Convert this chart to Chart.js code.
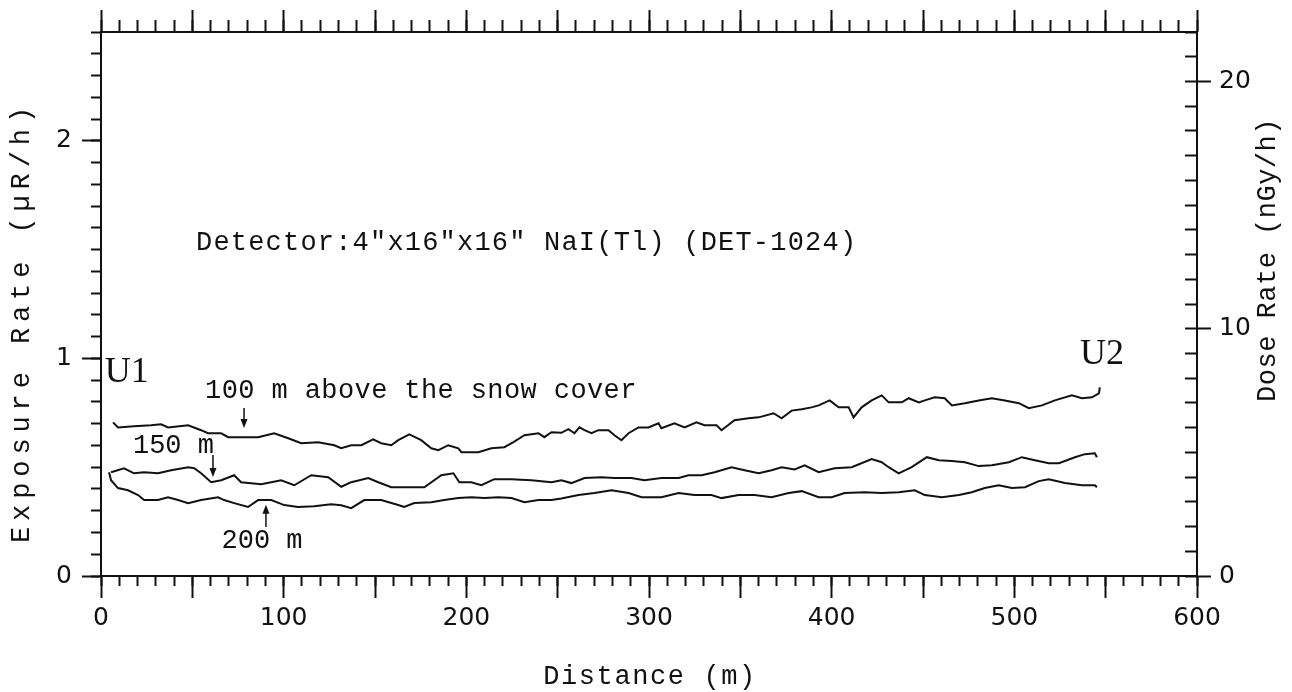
<!DOCTYPE html>
<html>
<head>
<meta charset="utf-8">
<script src="https://cdn.jsdelivr.net/npm/chart.js@4.4.0/dist/chart.umd.min.js"></script>
<style>
  html, body { margin: 0; padding: 0; background: #fff; }
  #wrap { width: 1292px; height: 692px; }
</style>
</head>
<body>
<div id="wrap"><canvas id="chart"></canvas></div>
<script>
// distance along the flight line (m) and exposure rate (uR/h)
const dist100 = [6.6, 9.3, 18, 27.4, 32.9, 36.7, 47.7, 54.8, 58.6, 65.8, 69.6, 76.7, 86, 94.8, 102.5, 109.6, 118.9, 127.7,
  131.5, 137, 142.5, 149, 153.4, 158.9, 162.7, 168.8, 175.3, 180.8, 184.7, 190.1, 195.6, 197.3, 206.6, 213.7, 220.8,
  225.8, 231.8, 239.5, 242.7, 246.6, 252, 255.9, 259.2, 261.9, 264.7, 268.5, 272.3, 277.8, 281.1, 284.9, 288.8, 294.2,
  299.7, 305.2, 306.8, 313.9, 319.5, 326, 330.4, 337, 339.7, 346.8, 354.5, 360, 368.2, 372.6, 378.1, 383.6, 389, 392.9,
  398.9, 403.8, 409.3, 412, 416.4, 421.9, 427.4, 431.2, 438.4, 442.2, 447.7, 451, 456.4, 461.9, 465.8, 472.9, 480.5,
  487.7, 494.8, 502.5, 507.9, 515.1, 522.2, 531.5, 537, 542.5, 546.3, 546.8];
const rate100 = [0.706, 0.683, 0.688, 0.693, 0.697, 0.683, 0.693, 0.670, 0.656, 0.656, 0.638, 0.638, 0.638, 0.656, 0.633,
  0.610, 0.615, 0.601, 0.587, 0.601, 0.601, 0.628, 0.610, 0.601, 0.624, 0.651, 0.624, 0.587, 0.578, 0.601, 0.587, 0.569,
  0.569, 0.587, 0.592, 0.615, 0.647, 0.656, 0.638, 0.661, 0.658, 0.675, 0.656, 0.683, 0.670, 0.656, 0.670, 0.670, 0.647,
  0.624, 0.656, 0.683, 0.683, 0.702, 0.679, 0.702, 0.683, 0.706, 0.693, 0.693, 0.670, 0.716, 0.725, 0.729, 0.748, 0.725,
  0.760, 0.766, 0.775, 0.784, 0.807, 0.775, 0.775, 0.729, 0.775, 0.807, 0.830, 0.798, 0.798, 0.817, 0.798, 0.807, 0.821,
  0.817, 0.784, 0.794, 0.807, 0.817, 0.807, 0.794, 0.771, 0.784, 0.807, 0.830, 0.817, 0.821, 0.839, 0.867];

const dist150 = [5.5, 12.6, 18.1, 23.6, 31.2, 38.4, 47.7, 51, 54.8, 60.3, 65.8, 72.9, 76.7, 87.7, 98.6, 105.8, 115.1, 124.4,
  131.5, 137, 146.3, 151.8, 158.9, 168.2, 177, 186.3, 192.9, 196.2, 202.7, 208.2, 215.3, 224.7, 235.6, 246.6, 252, 257.5,
  264.7, 274, 281.1, 290.4, 297.5, 306.8, 316.2, 321.6, 328.8, 335.9, 345.2, 352.3, 360, 367.1, 372.6, 379.7, 385.2,
  392.9, 401.6, 411, 421.9, 427.4, 431.2, 436.7, 443.8, 452.1, 458.6, 465.8, 472.9, 480.5, 487.7, 497, 504.1, 511.2,
  518.9, 524.4, 533.2, 538.6, 544.1, 545.2];
const rate150 = [0.477, 0.495, 0.472, 0.477, 0.472, 0.486, 0.500, 0.495, 0.472, 0.431, 0.440, 0.463, 0.431, 0.422, 0.440,
  0.417, 0.463, 0.454, 0.410, 0.431, 0.450, 0.431, 0.408, 0.408, 0.408, 0.463, 0.472, 0.431, 0.431, 0.417, 0.445, 0.445,
  0.440, 0.431, 0.440, 0.427, 0.450, 0.454, 0.450, 0.450, 0.440, 0.450, 0.450, 0.463, 0.463, 0.477, 0.500, 0.486, 0.472,
  0.486, 0.500, 0.490, 0.509, 0.477, 0.495, 0.500, 0.537, 0.523, 0.500, 0.472, 0.500, 0.546, 0.532, 0.528, 0.523, 0.505,
  0.509, 0.523, 0.546, 0.532, 0.518, 0.518, 0.546, 0.560, 0.564, 0.546];

const dist200 = [4.4, 5.5, 9.3, 14.8, 20.3, 23.6, 31.2, 36.7, 42.2, 47.7, 54.8, 64.1, 67.4, 72.9, 80.5, 86, 93.2, 100.3,
  107.9, 116.7, 126, 131.5, 137, 144.1, 153.4, 162.7, 166, 171.5, 180.8, 187.9, 195.6, 202.7, 209.9, 217.5, 224.7, 231.8,
  239.5, 246.6, 252, 261.4, 270.1, 279.5, 288.8, 295.9, 306.8, 316.2, 324.9, 334.2, 339.7, 349, 357.8, 367.1, 376.4,
  383.6, 392.9, 400, 407.1, 418.1, 427.4, 436.7, 445.5, 451, 460.3, 469.6, 476.7, 483.8, 491.5, 498.6, 505.8, 513.4,
  518.9, 527.7, 537, 544.1, 545.2];
const rate200 = [0.477, 0.440, 0.404, 0.394, 0.372, 0.349, 0.349, 0.362, 0.349, 0.335, 0.349, 0.362, 0.349, 0.335, 0.317,
  0.349, 0.349, 0.326, 0.317, 0.321, 0.330, 0.325, 0.312, 0.349, 0.349, 0.326, 0.317, 0.335, 0.339, 0.349, 0.358, 0.362,
  0.358, 0.362, 0.358, 0.339, 0.349, 0.349, 0.356, 0.372, 0.381, 0.394, 0.381, 0.362, 0.362, 0.381, 0.372, 0.372, 0.358,
  0.372, 0.372, 0.362, 0.381, 0.390, 0.362, 0.362, 0.381, 0.385, 0.381, 0.385, 0.394, 0.372, 0.362, 0.372, 0.385, 0.404,
  0.417, 0.404, 0.408, 0.436, 0.445, 0.427, 0.417, 0.417, 0.408];

// axis ranges
const distRange = [0, 600];
const exposureRange = [0, 2.5];
const doseRange = [0, 22];

const ink = '#111';
const tickFont = { family: 'DejaVu Sans', size: 25 };
const typeFont = "27px 'Liberation Mono', monospace";

function pts(xs, ys) {
  return xs.map((x, i) => ({ x: x, y: ys[i] }));
}
function fixW(w) { return s => { s.width = w; }; }
function fixH(h) { return s => { s.height = h; }; }

function tickAxis(position, weight, range, step, len, extra) {
  return Object.assign({
    type: 'linear', position: position, weight: weight, min: range[0], max: range[1],
    ticks: { stepSize: step, includeBounds: false, display: false, autoSkip: false },
    grid: { drawOnChartArea: false, tickLength: len, tickColor: ink, tickWidth: 2 },
    border: { display: false }
  }, extra);
}

// text written inside the frame, placed in data units
const notes = [
  { text: 'Detector:4"x16"x16" NaI(Tl) (DET-1024)', x: 52, y: 1.53, font: typeFont, spacing: 1.2, align: 'left' },
  { text: '100 m above the snow cover', x: 57, y: 0.85, font: typeFont, spacing: 0.4, align: 'left' },
  { text: '150 m', x: 17.5, y: 0.597, font: typeFont, spacing: 0, align: 'left' },
  { text: '200 m', x: 66, y: 0.161, font: typeFont, spacing: 0, align: 'left' },
  { text: 'U1', x: 2, y: 0.935, font: "36px 'Liberation Serif', serif", spacing: 0, align: 'left' },
  { text: 'U2', x: 548, y: 1.016, font: "36px 'Liberation Serif', serif", spacing: 0, align: 'center' }
];
// arrows: x, from y, to y (tip)
const arrows = [
  [78.3, 0.772, 0.680],
  [61.3, 0.556, 0.455],
  [90.3, 0.225, 0.327]
];

const annotations = {
  id: 'annotations',
  afterDatasetsDraw(chart) {
    const { ctx } = chart;
    const xs = chart.scales.x, ys = chart.scales.y;
    ctx.save();
    ctx.fillStyle = ink;
    ctx.strokeStyle = ink;
    ctx.textBaseline = 'middle';
    notes.forEach(n => {
      ctx.font = n.font;
      ctx.letterSpacing = n.spacing + 'px';
      ctx.textAlign = n.align;
      ctx.fillText(n.text, xs.getPixelForValue(n.x), ys.getPixelForValue(n.y));
    });
    ctx.letterSpacing = '0px';
    ctx.lineWidth = 1.5;
    arrows.forEach(a => {
      const px = xs.getPixelForValue(a[0]);
      const y0 = ys.getPixelForValue(a[1]);
      const y1 = ys.getPixelForValue(a[2]);
      const dir = y1 > y0 ? 1 : -1;
      ctx.beginPath();
      ctx.moveTo(px, y0);
      ctx.lineTo(px, y1 - dir * 6);
      ctx.stroke();
      ctx.beginPath();
      ctx.moveTo(px, y1);
      ctx.lineTo(px - 3.5, y1 - dir * 9);
      ctx.lineTo(px + 3.5, y1 - dir * 9);
      ctx.closePath();
      ctx.fill();
    });

    // axis titles
    ctx.font = typeFont;
    ctx.textAlign = 'center';
    ctx.letterSpacing = '1.6px';
    ctx.fillText('Distance (m)', 650, 677);

    ctx.save();
    ctx.translate(22, 322);
    ctx.rotate(-Math.PI / 2);
    ctx.letterSpacing = '5.9px';
    ctx.fillText('Exposure Rate (\u00b5R/h)', 0, 0);
    ctx.restore();

    ctx.save();
    ctx.translate(1268, 260);
    ctx.rotate(-Math.PI / 2);
    ctx.letterSpacing = '0.5px';
    ctx.fillText('Dose Rate (nGy/h)', 0, 0);
    ctx.restore();
    ctx.restore();
  }
};

const lineStyle = { borderColor: ink, borderWidth: 2, pointRadius: 0, tension: 0, fill: false };

new Chart(document.getElementById('chart'), {
  type: 'line',
  data: {
    datasets: [
      Object.assign({ label: '100 m', data: pts(dist100, rate100) }, lineStyle),
      Object.assign({ label: '150 m', data: pts(dist150, rate150) }, lineStyle),
      Object.assign({ label: '200 m', data: pts(dist200, rate200) }, lineStyle)
    ]
  },
  options: {
    responsive: true,
    maintainAspectRatio: false,
    devicePixelRatio: 1,
    animation: false,
    layout: { padding: 0 },
    plugins: { legend: { display: false }, tooltip: { enabled: false } },
    scales: {
      x: {
        type: 'linear', position: 'bottom', weight: 1, min: distRange[0], max: distRange[1],
        afterFit: fixH(116),
        ticks: {
          stepSize: 50, includeBounds: false, autoSkip: false, maxRotation: 0, padding: 5,
          color: ink, font: tickFont,
          callback: v => (v % 100 === 0 ? v : '')
        },
        grid: { drawOnChartArea: false, tickLength: 22, tickColor: ink, tickWidth: 2 },
        border: { display: true, color: ink, width: 2 }
      },
      xMinor: tickAxis('bottom', 0, distRange, 10, 10, { afterFit: fixH(0) }),
      xTop: tickAxis('top', 1, distRange, 50, 22, {
        afterFit: fixH(32),
        border: { display: true, color: ink, width: 2 }
      }),
      xTopMinor: tickAxis('top', 0, distRange, 10, 12, { afterFit: fixH(0) }),
      y: {
        type: 'linear', position: 'left', weight: 1, min: exposureRange[0], max: exposureRange[1],
        afterFit: fixW(101),
        ticks: { stepSize: 1, includeBounds: false, autoSkip: false, padding: 10, color: ink, font: tickFont },
        grid: { drawOnChartArea: false, tickLength: 19, tickColor: ink, tickWidth: 2 },
        border: { display: true, color: ink, width: 2 }
      },
      yMinor: tickAxis('left', 0, exposureRange, 0.1, 10, { afterFit: fixW(0) }),
      y2: {
        type: 'linear', position: 'right', weight: 1, min: doseRange[0], max: doseRange[1],
        afterFit: fixW(95),
        ticks: { stepSize: 10, includeBounds: false, autoSkip: false, padding: 8, color: ink, font: tickFont },
        grid: { drawOnChartArea: false, tickLength: 14, tickColor: ink, tickWidth: 2 },
        border: { display: true, color: ink, width: 2 }
      },
      y2Minor: tickAxis('right', 0, doseRange, 1, -12, { afterFit: fixW(0) })
    }
  },
  plugins: [annotations]
});
</script>
</body>
</html>
